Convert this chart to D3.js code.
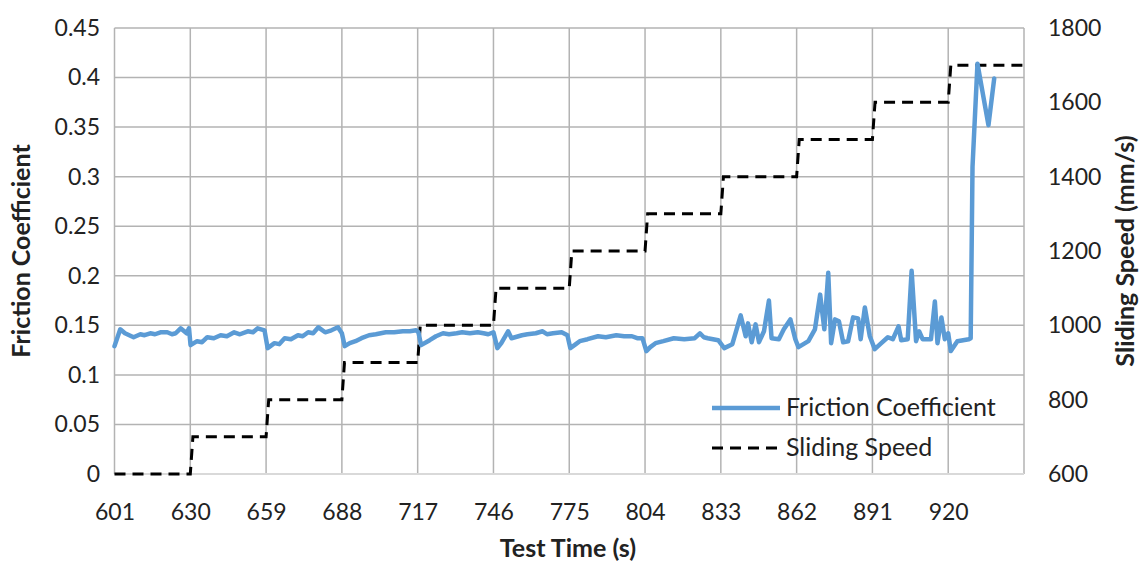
<!DOCTYPE html>
<html>
<head>
<meta charset="utf-8">
<script src="https://cdn.jsdelivr.net/npm/d3@7"></script>
<style>
  body { margin: 0; background: #fff; }
  svg { font-family: Lato, "Open Sans", sans-serif; }
</style>
</head>
<body>
<svg width="1141" height="561"></svg>
<script>
// tick labels on the category axis
var timeTicks = [601, 630, 659, 688, 717, 746, 775, 804, 833, 862, 891, 920];
var frictionTicks = [0, 0.05, 0.1, 0.15, 0.2, 0.25, 0.3, 0.35, 0.4, 0.45];
var speedTicks = [600, 800, 1000, 1200, 1400, 1600, 1800];

// sliding speed (mm/s), step breakpoints
var speedTime = [601, 630, 631, 659, 660, 688, 689, 717, 718, 746, 747, 775, 776,
                 804, 805, 833, 834, 862, 863, 891, 892, 920, 921, 949];
var speedValue = [600, 600, 700, 700, 800, 800, 900, 900, 1000, 1000, 1100, 1100, 1200,
                  1200, 1300, 1300, 1400, 1400, 1500, 1500, 1600, 1600, 1700, 1700];

// friction coefficient
var frictionTime = [601, 603.2, 605, 608.3, 610.9, 612.5, 614.7, 616.5, 618.6, 621.2, 623, 624.4, 626.3, 628.6, 629.5,
  630.1, 632.6, 634.5, 636.5, 639, 641.6, 644, 646.8, 649, 652, 654, 655.8, 658.4,
  659.6, 662.2, 664, 666.1, 668.5, 671.2, 673, 675.1, 677, 679, 681.6, 684, 686.5, 688,
  689.1, 691, 693.2, 695.5, 698.4, 701, 704.8, 708, 711.3, 714, 716.4, 717.3,
  718.3, 721.6, 724, 726.7, 729, 731.9, 734, 737, 740, 742.2, 744, 746,
  747.5, 749, 751.6, 752.9, 756.9, 759, 762.2, 764.8, 766.5, 768.8, 772.1, 774.3,
  775.4, 777, 779, 782, 786, 789, 793, 796, 799, 801, 803,
  804.5, 806, 808, 811, 815, 819, 823, 825, 826.5, 828, 830, 832,
  834.3, 837.4, 840.6, 842.5, 843.4, 844.8, 846.3, 847.6, 849.5, 851.4, 852.4, 855.2, 857.1, 859.6, 861.5,
  862.7, 866.5, 869, 871, 872.6, 874.1, 875.2, 876.7, 878.2, 879.8, 881.7, 883.6, 885.5, 886.5, 888.1, 890,
  891.9, 894.4, 896.9, 898.8, 901, 902, 904.5, 906, 907.7, 908.9, 910.2, 913.4, 914.9, 915.9, 917.4, 918.7, 920,
  921, 923.5, 927.9, 928.6, 929.3, 931.2, 935.4, 937.6];
var frictionValue = [0.129, 0.146, 0.142, 0.138, 0.141, 0.140, 0.142, 0.141, 0.143, 0.143, 0.141, 0.142, 0.147, 0.142, 0.147,
  0.130, 0.134, 0.133, 0.138, 0.137, 0.140, 0.139, 0.143, 0.141, 0.144, 0.143, 0.147, 0.145,
  0.127, 0.132, 0.131, 0.137, 0.136, 0.140, 0.139, 0.143, 0.142, 0.148, 0.143, 0.145, 0.148, 0.142,
  0.129, 0.132, 0.134, 0.137, 0.140, 0.141, 0.143, 0.143, 0.144, 0.144, 0.145, 0.143,
  0.130, 0.135, 0.139, 0.142, 0.141, 0.142, 0.143, 0.142, 0.143, 0.142, 0.141, 0.143,
  0.127, 0.132, 0.144, 0.137, 0.140, 0.141, 0.142, 0.144, 0.141, 0.142, 0.143, 0.140,
  0.127, 0.130, 0.134, 0.136, 0.139, 0.138, 0.140, 0.139, 0.139, 0.137, 0.137,
  0.124, 0.128, 0.132, 0.134, 0.137, 0.136, 0.137, 0.142, 0.138, 0.137, 0.136, 0.135,
  0.127, 0.131, 0.160, 0.139, 0.152, 0.133, 0.151, 0.133, 0.144, 0.175, 0.137, 0.136, 0.146, 0.156, 0.136,
  0.128, 0.134, 0.146, 0.181, 0.146, 0.203, 0.132, 0.156, 0.154, 0.133, 0.134, 0.158, 0.157, 0.136, 0.168, 0.139,
  0.126, 0.132, 0.138, 0.136, 0.149, 0.135, 0.136, 0.205, 0.134, 0.144, 0.136, 0.136, 0.174, 0.132, 0.158, 0.136, 0.142,
  0.124, 0.134, 0.136, 0.137, 0.310, 0.414, 0.352, 0.399];

var svg = d3.select("svg"),
    margin = {left: 114.5, right: 117, top: 28, bottom: 87},
    width = 1141 - margin.left - margin.right,
    height = 561 - margin.top - margin.bottom;

var x = d3.scaleLinear().domain([601, 949]).range([margin.left, margin.left + width]);
var yL = d3.scaleLinear().domain([0, 0.45]).range([margin.top + height, margin.top]);
var yR = d3.scaleLinear().domain([600, 1800]).range([margin.top + height, margin.top]);

// gridlines
var grid = svg.append("g").attr("stroke", "#b3b3b3").attr("stroke-width", 1.5);
grid.selectAll(".h").data(frictionTicks.slice(1)).enter().append("line")
    .attr("x1", x(601)).attr("x2", x(949))
    .attr("y1", function(d) { return yL(d); }).attr("y2", function(d) { return yL(d); });
grid.selectAll(".v").data(timeTicks.slice(1).concat([949])).enter().append("line")
    .attr("x1", function(d) { return x(d); }).attr("x2", function(d) { return x(d); })
    .attr("y1", yL(0.45)).attr("y2", yL(0));
svg.append("line")
    .attr("x1", x(601)).attr("x2", x(949)).attr("y1", yL(0)).attr("y2", yL(0))
    .attr("stroke", "#d9d9d9").attr("stroke-width", 2);
svg.append("line")
    .attr("x1", x(601)).attr("x2", x(601)).attr("y1", yL(0.45)).attr("y2", yL(0))
    .attr("stroke", "#b3b3b3").attr("stroke-width", 1.5);

// axes labels
var fmtL = function(d) { return d === 0 ? "0" : String(d); };
var axL = svg.append("g").attr("transform", "translate(" + (margin.left - 11.5) + ",0)")
    .call(d3.axisLeft(yL).tickValues(frictionTicks).tickFormat(fmtL).tickSize(0));
var axR = svg.append("g").attr("transform", "translate(" + (margin.left + width + 21) + ",0)")
    .call(d3.axisRight(yR).tickValues(speedTicks).tickFormat(d3.format("d")).tickSize(0));
var axB = svg.append("g").attr("transform", "translate(0," + (margin.top + height + 27) + ")")
    .call(d3.axisBottom(x).tickValues(timeTicks).tickFormat(d3.format("d")).tickSize(0));
[axL, axR, axB].forEach(function(a) {
    a.select(".domain").remove();
    a.selectAll("text").attr("font-size", 23).attr("fill", "#222")
     .style("font-family", "Lato, 'Open Sans', sans-serif");
});

// series
var speedData = speedTime.map(function(t, i) { return [t, speedValue[i]]; });
var frictionData = frictionTime.map(function(t, i) { return [t, frictionValue[i]]; });

svg.append("path")
    .datum(speedData)
    .attr("fill", "none")
    .attr("stroke", "#000")
    .attr("stroke-width", 3)
    .attr("stroke-dasharray", "11,7")
    .attr("d", d3.line().x(function(d) { return x(d[0]); }).y(function(d) { return yR(d[1]); }));

svg.append("path")
    .datum(frictionData)
    .attr("fill", "none")
    .attr("stroke", "#5b9bd5")
    .attr("stroke-width", 4.5)
    .attr("stroke-linejoin", "round")
    .attr("stroke-linecap", "round")
    .attr("d", d3.line().x(function(d) { return x(d[0]); }).y(function(d) { return yL(d[1]); }));

// axis titles
svg.append("text")
    .attr("transform", "translate(30," + (margin.top + height / 2) + ") rotate(-90)")
    .attr("text-anchor", "middle").attr("font-size", 25).attr("font-weight", "bold")
    .attr("fill", "#222").text("Friction Coefficient");
svg.append("text")
    .attr("transform", "translate(1134," + (margin.top + height / 2) + ") rotate(-90)")
    .attr("text-anchor", "middle").attr("font-size", 25).attr("font-weight", "bold")
    .attr("fill", "#222").text("Sliding Speed (mm/s)");
svg.append("text")
    .attr("x", 568).attr("y", 557)
    .attr("text-anchor", "middle").attr("font-size", 25).attr("font-weight", "bold")
    .attr("fill", "#222").text("Test Time (s)");

// legend
var legend = svg.append("g").attr("transform", "translate(712,408)");
legend.append("line").attr("x1", 0).attr("x2", 68).attr("y1", 0).attr("y2", 0)
    .attr("stroke", "#5b9bd5").attr("stroke-width", 4.5);
legend.append("text").attr("x", 74).attr("y", 8).attr("font-size", 25).attr("fill", "#222")
    .text("Friction Coefficient");
legend.append("line").attr("x1", 0).attr("x2", 68).attr("y1", 40).attr("y2", 40)
    .attr("stroke", "#000").attr("stroke-width", 3).attr("stroke-dasharray", "11,7");
legend.append("text").attr("x", 74).attr("y", 48).attr("font-size", 25).attr("fill", "#222")
    .text("Sliding Speed");
</script>
</body>
</html>
